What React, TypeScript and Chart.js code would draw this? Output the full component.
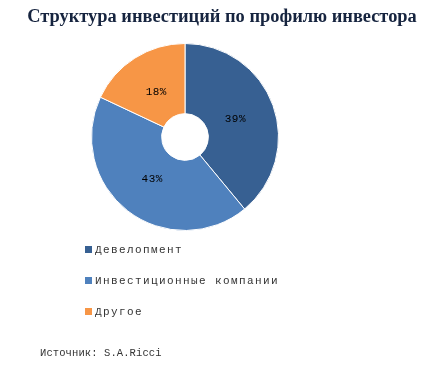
import React, { useEffect, useRef } from "react";
import { Chart, registerables } from "chart.js";

Chart.register(...registerables);

const titleText = "Структура инвестиций по профилю инвестора";
const categories = ["Девелопмент", "Инвестиционные компании", "Другое"];
const values = [39, 43, 18];
const colors = ["#376092", "#4F81BD", "#F79646"];
const sourceText = "Источник: S.A.Ricci";

const overlay = {
  id: "overlay",
  beforeDraw(chart: any) {
    const ctx = chart.ctx;
    ctx.save();
    ctx.fillStyle = "#ffffff";
    ctx.fillRect(0, 0, chart.width, chart.height);
    ctx.restore();
  },
  afterDraw(chart: any) {
    const ctx = chart.ctx;
    ctx.save();
    // title
    ctx.fillStyle = "#16243F";
    ctx.font = "bold 18.4px 'Liberation Serif'";
    ctx.textAlign = "center";
    ctx.textBaseline = "middle";
    ctx.fillText(titleText, 222, 17);

    // data labels
    const meta = chart.getDatasetMeta(0);
    ctx.font = "11px 'Liberation Mono'";
    (ctx as any).letterSpacing = "0.5px";
    ctx.fillStyle = "#000000";
    meta.data.forEach((arc: any, i: number) => {
      const p = arc.getProps(["x", "y", "startAngle", "endAngle", "innerRadius", "outerRadius"], true);
      const mid = (p.startAngle + p.endAngle) / 2;
      const r = p.innerRadius + (p.outerRadius - p.innerRadius) * 0.43;
      ctx.fillText(values[i] + "%", p.x + Math.cos(mid) * r, p.y + Math.sin(mid) * r);
    });

    // legend
    ctx.textAlign = "left";
    ctx.font = "11px 'Liberation Mono'";
    (ctx as any).letterSpacing = "1.4px";
    categories.forEach((c, i) => {
      const y = 250 + i * 31;
      ctx.fillStyle = colors[i];
      ctx.fillRect(85, y - 4, 7, 7);
      ctx.fillStyle = "#333333";
      ctx.fillText(c, 95, y);
    });

    // source
    (ctx as any).letterSpacing = "0.1px";
    ctx.font = "10.5px 'Liberation Mono'";
    ctx.fillStyle = "#333333";
    ctx.fillText(sourceText, 40, 353);
    ctx.restore();
  },
};

export default function App() {
  const ref = useRef<HTMLCanvasElement>(null);
  useEffect(() => {
    const chart = new Chart(ref.current!, {
      type: "doughnut",
      data: {
        labels: categories,
        datasets: [
          {
            data: values,
            backgroundColor: colors,
            borderColor: "#ffffff",
            borderWidth: 1,
          },
        ],
      },
      options: {
        responsive: false,
        animation: false,
        cutout: "25%",
        layout: { padding: { left: 91, right: 158, top: 43, bottom: 140 } },
        plugins: { legend: { display: false }, tooltip: { enabled: false }, title: { display: false } },
      },
      plugins: [overlay],
    });
    return () => chart.destroy();
  }, []);
  return (
    <div style={{ position: "fixed", left: 0, top: 0, width: 437, height: 371, background: "#fff" }}>
      <canvas ref={ref} width={437} height={371} style={{ width: 437, height: 371 }} />
    </div>
  );
}
